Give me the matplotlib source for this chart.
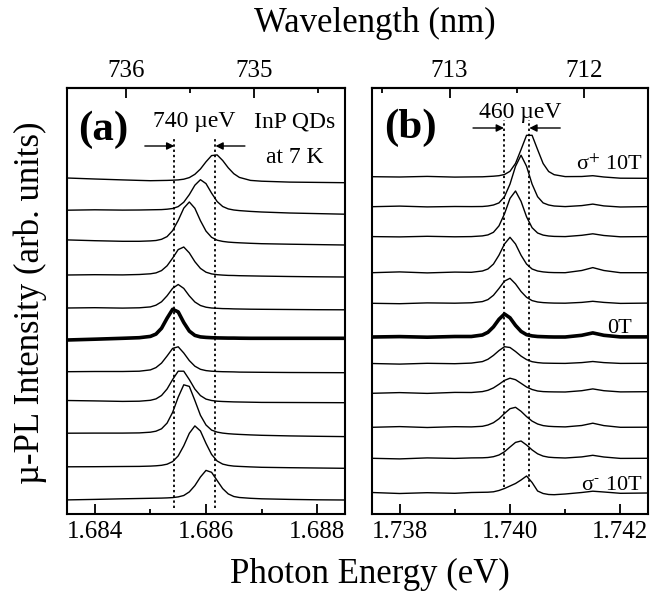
import numpy as np
import matplotlib
matplotlib.use("Agg")
import matplotlib.pyplot as plt

plt.rcParams['font.family'] = ['Liberation Serif', 'DejaVu Serif']
plt.rcParams['mathtext.fontset'] = 'stix'

HC = 1239.84  # eV*nm, photon energy <-> wavelength

# field for each spectrum, bottom (sigma- 10T) to top (sigma+ 10T)
fields = [-10, -8, -6, -4, -2, 0, 2, 4, 6, 8, 10]

# (a) dot emitting near 1.6855 eV
a_energy = [1.6835, 1.6840, 1.6845, 1.6848, 1.6850, 1.6851, 1.6852, 1.6853,
            1.6854, 1.6855, 1.6856, 1.6857, 1.6858, 1.6859, 1.6860, 1.6861,
            1.6862, 1.6863, 1.6864, 1.6865, 1.6866, 1.6868, 1.6870, 1.6875,
            1.6880, 1.6885]
a_spectra = [
    [0.1, 0.6, 1.2, 1.5, 1.7, 1.8, 1.9, 2.1, 2.4, 3.1, 4.5, 8.1, 14.4, 23.0, 29.6, 27.7, 19.5, 11.4, 6.1, 3.5, 2.5, 1.7, 1.2, 0.6, 0.2, 0.0],
    [1.0, 1.1, 1.3, 1.4, 1.7, 2.0, 2.5, 3.6, 6.2, 11.9, 22.0, 34.5, 41.9, 36.8, 24.4, 13.4, 6.8, 3.7, 2.4, 1.7, 1.4, 0.9, 0.5, 0.1, -0.2, -0.5],
    [2.4, 2.5, 2.5, 2.7, 3.4, 4.4, 6.8, 12.5, 23.3, 38.4, 50.8, 49.2, 35.1, 20.3, 10.6, 5.5, 3.5, 2.5, 1.9, 1.5, 1.2, 0.7, 0.3, -0.3, -0.7, -1.0],
    [2.9, 2.5, 2.0, 2.2, 3.1, 4.5, 7.9, 14.4, 23.9, 32.2, 32.2, 23.8, 14.3, 7.8, 4.3, 2.9, 2.2, 1.9, 1.7, 1.5, 1.4, 1.2, 1.0, 0.9, 0.8, 0.7],
    [-0.5, -0.3, -0.3, 0.0, 1.3, 3.6, 8.1, 15.2, 22.8, 24.4, 18.2, 10.6, 5.0, 1.9, 0.6, 0.0, -0.3, -0.5, -0.6, -0.7, -0.9, -1.0, -1.1, -1.3, -1.4, -1.5],
    [-1.0, -0.2, 0.7, 1.3, 2.6, 4.9, 10.7, 20.8, 29.7, 27.1, 16.5, 7.9, 3.6, 2.1, 1.6, 1.3, 1.1, 1.0, 0.9, 0.9, 0.8, 0.7, 0.7, 0.7, 0.7, 0.7],
    [-1.2, -0.9, -1.3, -1.0, -0.1, 1.6, 5.0, 11.0, 18.5, 22.3, 18.4, 10.9, 4.8, 1.3, -0.4, -1.2, -1.5, -1.8, -1.9, -2.1, -2.2, -2.4, -2.5, -2.7, -2.9, -3.0],
    [-0.4, -0.1, -0.3, 0.1, 0.8, 1.7, 4.0, 8.8, 16.5, 25.0, 27.6, 21.7, 12.9, 6.2, 2.4, 0.7, -0.1, -0.5, -0.8, -0.9, -1.1, -1.3, -1.5, -1.9, -2.2, -2.4],
    [2.5, 1.7, 1.1, 1.1, 1.5, 1.9, 3.1, 5.8, 11.8, 22.0, 34.2, 40.4, 34.1, 21.7, 11.3, 5.1, 2.2, 1.0, 0.3, -0.1, -0.4, -0.9, -1.3, -1.8, -2.2, -2.6],
    [0.0, 0.4, 0.1, 0.2, 0.4, 0.5, 0.6, 1.0, 1.7, 3.6, 8.0, 15.6, 25.0, 30.5, 26.6, 17.1, 8.7, 3.7, 1.3, 0.2, -0.4, -1.2, -1.8, -2.8, -3.4, -4.0],
    [0.0, -1.0, -1.9, -2.4, -2.7, -2.6, -2.5, -2.4, -2.2, -1.9, -1.2, 0.4, 3.7, 9.0, 16.2, 22.4, 23.1, 17.5, 10.2, 4.3, 0.6, -2.4, -3.2, -4.1, -4.4, -4.7],
]
a_split = [1.68543, 1.68617]   # 740 ueV between the two dotted lines

# (b) dot emitting near 1.7400 eV
b_energy = [1.7375, 1.7380, 1.7385, 1.7390, 1.7393, 1.7395, 1.7396, 1.7397,
            1.7398, 1.7399, 1.7400, 1.7401, 1.7402, 1.7403, 1.7404, 1.7405,
            1.7406, 1.7407, 1.7408, 1.7410, 1.7413, 1.7415, 1.7417, 1.7420,
            1.7425]
b_spectra = [
    [0.5, -0.5, 0.3, -0.3, 0.5, 0.7, 0.8, 1.2, 2.5, 4.5, 7.0, 9.5, 13.0, 17.0, 10.5, 2.0, -0.5, -1.5, -1.7, -1.0, 0.5, 1.8, 1.0, -0.3, 0.0],
    [3.2, 2.6, 3.6, 3.1, 3.6, 3.7, 4.0, 4.8, 6.5, 9.7, 14.5, 19.1, 20.5, 16.5, 11.6, 7.7, 5.4, 4.3, 3.9, 3.5, 4.6, 6.2, 4.5, 3.1, 3.2],
    [2.7, 3.4, 2.5, 3.3, 3.1, 3.7, 5.0, 7.3, 11.2, 16.5, 21.3, 22.7, 18.7, 13.4, 8.9, 6.0, 4.4, 3.7, 3.4, 3.1, 4.5, 6.8, 4.4, 2.7, 2.8],
    [5.2, 5.9, 5.1, 6.1, 6.0, 6.9, 8.2, 10.6, 14.2, 18.1, 20.3, 18.8, 15.2, 11.5, 9.0, 7.5, 6.9, 6.7, 6.6, 6.5, 7.8, 9.6, 7.8, 6.6, 6.8],
    [3.5, 2.9, 3.7, 3.3, 3.9, 5.4, 7.7, 11.6, 16.4, 20.3, 19.5, 15.5, 10.9, 7.4, 5.3, 4.4, 3.9, 3.8, 3.7, 3.6, 4.4, 5.5, 4.4, 3.6, 3.7],
    [-1.5, -1.1, -1.7, -1.0, -1.0, 0.5, 3.2, 8.6, 16.2, 21.5, 17.7, 10.1, 4.1, 0.8, -0.4, -1.0, -1.2, -1.4, -1.5, -1.5, 0.2, 2.6, 0.2, -1.4, -1.4],
    [0.7, 0.3, 1.1, 0.8, 1.2, 2.4, 4.4, 8.7, 15.5, 22.9, 25.7, 20.1, 12.5, 6.7, 3.4, 2.0, 1.4, 1.1, 0.9, 0.8, 1.6, 2.7, 1.6, 0.6, 0.9],
    [-0.2, 0.6, -0.4, 0.4, 0.2, 1.5, 3.5, 8.4, 17.3, 28.5, 35.2, 28.5, 17.3, 8.4, 3.5, 1.5, 0.6, 0.1, -0.1, -0.2, 2.0, 4.9, 2.0, -0.2, -0.2],
    [4.4, 4.1, 4.7, 4.2, 4.4, 5.1, 6.1, 8.7, 15.1, 27.1, 42.6, 50.0, 39.7, 24.2, 13.3, 8.0, 5.9, 5.0, 4.6, 4.4, 5.7, 7.2, 5.5, 4.2, 4.4],
    [2.8, 3.4, 2.6, 3.0, 2.9, 3.0, 3.5, 4.5, 6.6, 12.8, 25.4, 43.2, 54.3, 43.2, 25.4, 12.8, 6.6, 4.5, 3.5, 2.9, 3.9, 5.4, 3.6, 2.5, 2.9],
    [1.3, 1.0, 1.6, 0.9, 1.1, 1.2, 1.5, 1.8, 2.3, 3.5, 6.7, 14.6, 28.4, 42.7, 42.7, 28.4, 14.5, 6.5, 3.3, 1.4, 1.5, 2.3, 1.0, -0.2, -0.3],
]
b_split = [1.73989, 1.74035]   # 460 ueV


def e2w(e):
    e = np.asarray(e, dtype=float)
    with np.errstate(divide='ignore'):
        return HC / e


def draw_panel(ax, energy, spectra, base, step, xlim, ticks, minor, wl_ticks, wl_minor):
    for i, (field, counts) in enumerate(zip(fields, spectra)):
        y = [base + step * i + c for c in counts]
        ax.plot(energy, y, color='black', lw=2.6 if field == 0 else 1.0,
                solid_joinstyle='round')
    ax.set_xlim(xlim)
    ax.set_ylim(0, 426)
    ax.set_yticks([])
    ax.set_xticks(ticks)
    ax.set_xticks(minor, minor=True)
    ax.xaxis.set_major_formatter('{x:.3f}')
    ax.tick_params(axis='x', which='both', direction='in', top=False,
                   labelsize=18, pad=5, width=1.3)
    ax.tick_params(axis='x', which='major', length=7)
    ax.tick_params(axis='x', which='minor', length=3.5)
    for s in ax.spines.values():
        s.set_linewidth(1.5)

    sec = ax.secondary_xaxis('top', functions=(e2w, e2w))
    sec.set_xticks(wl_ticks)
    sec.set_xticks(wl_minor, minor=True)
    sec.xaxis.set_major_formatter('{x:.0f}')
    sec.tick_params(which='both', direction='in', labelsize=18, pad=4, width=1.3)
    sec.tick_params(which='major', length=7)
    sec.tick_params(which='minor', length=3.5)
    sec.spines['top'].set_linewidth(1.5)


fig = plt.figure(figsize=(6.51, 5.93), dpi=100)
ax_a = fig.add_axes([67 / 651, 79 / 593, 278 / 651, 426 / 593])
ax_b = fig.add_axes([372 / 651, 79 / 593, 276 / 651, 426 / 593])

draw_panel(ax_a, a_energy, a_spectra, 14, 32.2, (1.6835, 1.6885),
           [1.684, 1.686, 1.688], [1.685, 1.687], [736, 735], [735.5, 734.5])
draw_panel(ax_b, b_energy, b_spectra, 21, 31.5, (1.7375, 1.7425),
           [1.738, 1.740, 1.742], [1.739, 1.741], [713, 712], [713.5, 712.5])

dots = (0, (1.3, 1.6))
for e in a_split:
    ax_a.axvline(e, ymin=0.014, ymax=0.885, color='black', lw=1.3, ls=dots)
for e in b_split:
    ax_b.axvline(e, ymin=0.063, ymax=0.925, color='black', lw=1.3, ls=dots)

arrow = dict(arrowstyle='-|>', color='black', lw=1.0, mutation_scale=11,
             shrinkA=0, shrinkB=0)
ax_a.annotate('', xy=(a_split[0], 368), xytext=(1.68490, 368), arrowprops=arrow)
ax_a.annotate('', xy=(a_split[1], 368), xytext=(1.68670, 368), arrowprops=arrow)
ax_b.annotate('', xy=(b_split[0], 386), xytext=(1.73933, 386), arrowprops=arrow)
ax_b.annotate('', xy=(b_split[1], 386), xytext=(1.74091, 386), arrowprops=arrow)

ax_a.text(0.129, 0.878, '(a)', transform=ax_a.transAxes, ha='center',
          va='baseline', fontsize=31, fontweight='bold')
ax_a.text(0.457, 0.908, '740 µeV', transform=ax_a.transAxes, ha='center',
          va='baseline', fontsize=17)
ax_a.text(0.817, 0.908, 'InP QDs', transform=ax_a.transAxes, ha='center',
          va='baseline', fontsize=17)
ax_a.text(0.82, 0.824, 'at 7 K', transform=ax_a.transAxes, ha='center',
          va='baseline', fontsize=17)

ax_b.text(0.141, 0.883, '(b)', transform=ax_b.transAxes, ha='center',
          va='baseline', fontsize=31, fontweight='bold')
ax_b.text(0.536, 0.930, '460 µeV', transform=ax_b.transAxes, ha='center',
          va='baseline', fontsize=17)
ax_b.text(0.982, 0.808, 'σ$^{+}$ 10T', transform=ax_b.transAxes, ha='right',
          va='baseline', fontsize=16)
ax_b.text(0.942, 0.425, '0T', transform=ax_b.transAxes, ha='right',
          va='baseline', fontsize=16)
ax_b.text(0.982, 0.056, r'σ$^{\text{-}}$ 10T', transform=ax_b.transAxes,
          ha='right', va='baseline', fontsize=16)

fig.text(0.575, 1 - 32 / 593, 'Wavelength (nm)', ha='center', va='baseline',
         fontsize=25)
fig.text(0.568, 10 / 593, 'Photon Energy (eV)', ha='center', va='baseline',
         fontsize=25)
fig.text(0.046, 0.489, 'µ-PL Intensity (arb. units)', rotation=90,
         ha='center', va='center', fontsize=25)

fig.savefig('out.png', dpi=100)
